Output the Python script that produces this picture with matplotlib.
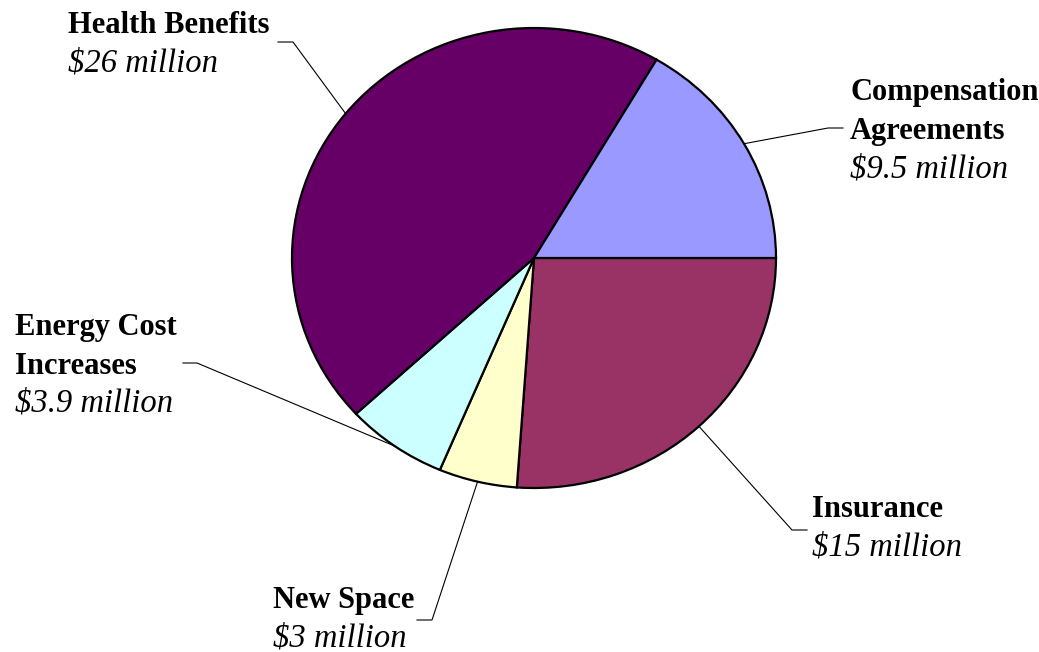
import matplotlib
matplotlib.use("Agg")
import numpy as np
import matplotlib.pyplot as plt

# slices, clockwise from 3 o'clock
categories = ["Insurance", "New Space", "Energy Cost\nIncreases", "Health Benefits", "Compensation\nAgreements"]
amounts = [15, 3, 3.9, 26, 9.5]  # $ millions
slice_colors = ["#993366", "#FFFFCC", "#CCFFFF", "#660066", "#9999FF"]

W, H = 1039, 652
# pie ellipse in pixels (top-left origin)
CX, CY, RX, RY = 534, 258, 242, 230

# label layout: text left x, first baseline, leader path (from label end to elbow)
label_layout = {
    "Insurance": dict(x=812, y=517, leader=[(807, 530), (792, 530)]),
    "New Space": dict(x=273, y=608, leader=[(417, 620), (432, 620)]),
    "Energy Cost\nIncreases": dict(x=15, y=335, leader=[(183, 363), (197, 363)]),
    "Health Benefits": dict(x=68, y=33, leader=[(278, 42), (293, 42)]),
    "Compensation\nAgreements": dict(x=850, y=100, leader=[(843, 128), (828, 128)]),
}
LINE_STEP = 38.5

fig = plt.figure(figsize=(W / 100, H / 100), dpi=100)
ax = fig.add_axes([(CX - RX) / W, (H - CY - RY) / H, 2 * RX / W, 2 * RY / H])

wedges, _ = ax.pie(
    amounts,
    colors=slice_colors,
    startangle=0,
    counterclock=False,
    wedgeprops=dict(edgecolor="black", linewidth=1.6, clip_on=False),
)
ax.set_aspect("auto")
ax.set_xlim(-1, 1)
ax.set_ylim(-1, 1)
ax.axis("off")


def px_to_data(px, py):
    return (px - CX) / RX, (CY - py) / RY


for wedge, name, amount in zip(wedges, categories, amounts):
    lay = label_layout[name]
    mid = np.deg2rad((wedge.theta1 + wedge.theta2) / 2)
    edge = (np.cos(mid), np.sin(mid))
    pts = [px_to_data(*p) for p in lay["leader"]] + [edge]
    xs, ys = zip(*pts)
    ax.plot(xs, ys, color="black", linewidth=0.8, clip_on=False)

    lines = name.split("\n")
    for i, line in enumerate(lines):
        fig.text(lay["x"] / W, 1 - (lay["y"] + i * LINE_STEP) / H, line,
                 fontfamily="Liberation Serif", fontweight="bold", fontsize=22,
                 va="baseline", ha="left")
    fig.text(lay["x"] / W, 1 - (lay["y"] + len(lines) * LINE_STEP) / H,
             f"${amount:g} million",
             fontfamily="Liberation Serif", fontstyle="italic", fontsize=23.5,
             va="baseline", ha="left")

fig.savefig("out.png", dpi=100, facecolor="white")
